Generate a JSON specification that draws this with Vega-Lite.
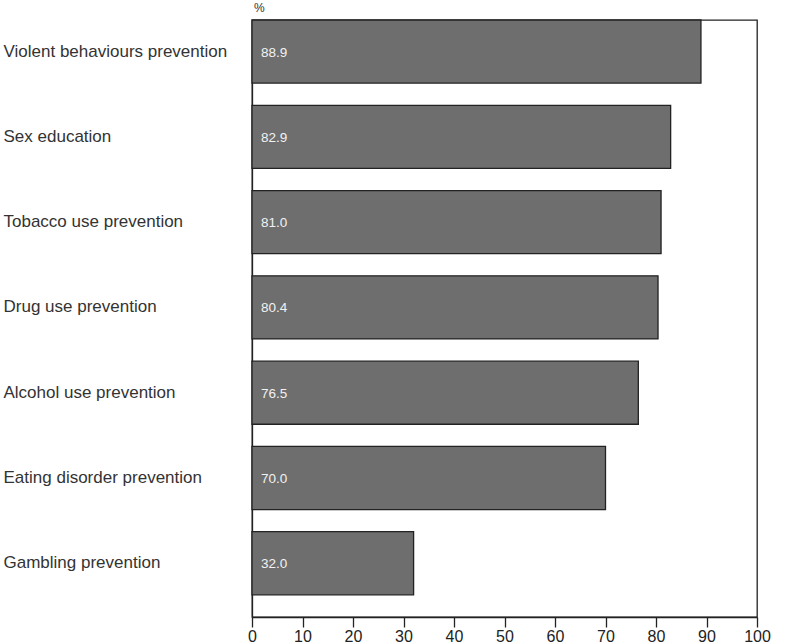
{
  "$schema": "https://vega.github.io/schema/vega-lite/v6.json",
  "autosize": "none",
  "width": 505,
  "height": 597,
  "padding": {"left": 252, "top": 20, "right": 30, "bottom": 27},
  "background": "white",
  "title": {"text": "%", "anchor": "start", "frame": "group", "orient": "top", "fontSize": 12, "fontWeight": "normal", "font": "Liberation Sans", "color": "#333", "offset": 8, "baseline": "bottom", "dx": 2, "dy": 16},
  "config": {
    "view": {"stroke": "#222", "strokeWidth": 1.3},
    "font": "Liberation Sans"
  },
  "data": {
    "values": [
      {"topic": "Violent behaviours prevention", "pct": 88.9},
      {"topic": "Sex education", "pct": 82.9},
      {"topic": "Tobacco use prevention", "pct": 81.0},
      {"topic": "Drug use prevention", "pct": 80.4},
      {"topic": "Alcohol use prevention", "pct": 76.5},
      {"topic": "Eating disorder prevention", "pct": 70.0},
      {"topic": "Gambling prevention", "pct": 32.0}
    ]
  },
  "encoding": {
    "y": {
      "field": "topic", "type": "nominal", "sort": null,
      "scale": {"paddingInner": 0.26, "paddingOuter": 0.13, "align": 0},
      "axis": {"title": null, "ticks": false, "domainColor": "#222", "domainWidth": 1.3, "labelAlign": "left", "labelPadding": 249, "labelFontSize": 17, "labelColor": "#333", "labelFont": "Liberation Sans", "labelLimit": 300}
    }
  },
  "layer": [
    {
      "mark": {"type": "bar", "color": "#6e6e6e", "stroke": "#222", "strokeWidth": 1.3},
      "encoding": {
        "x": {
          "field": "pct", "type": "quantitative",
          "scale": {"domain": [0, 100], "nice": false},
          "axis": {"title": null, "values": [0,10,20,30,40,50,60,70,80,90,100], "grid": false, "tickSize": 10, "tickColor": "#222", "tickWidth": 1.3, "domainColor": "#222", "domainWidth": 1.3, "labelFontSize": 16, "labelColor": "#222", "labelPadding": 1, "labelFont": "Liberation Sans", "labelFlush": false}
        }
      }
    },
    {
      "mark": {"type": "text", "align": "left", "baseline": "middle", "dx": 9, "dy": 1, "color": "#f2f2f2", "fontSize": 13.5, "font": "Liberation Sans"},
      "encoding": {
        "x": {"datum": 0, "type": "quantitative"},
        "text": {"field": "pct", "type": "quantitative", "format": ".1f"}
      }
    }
  ]
}
